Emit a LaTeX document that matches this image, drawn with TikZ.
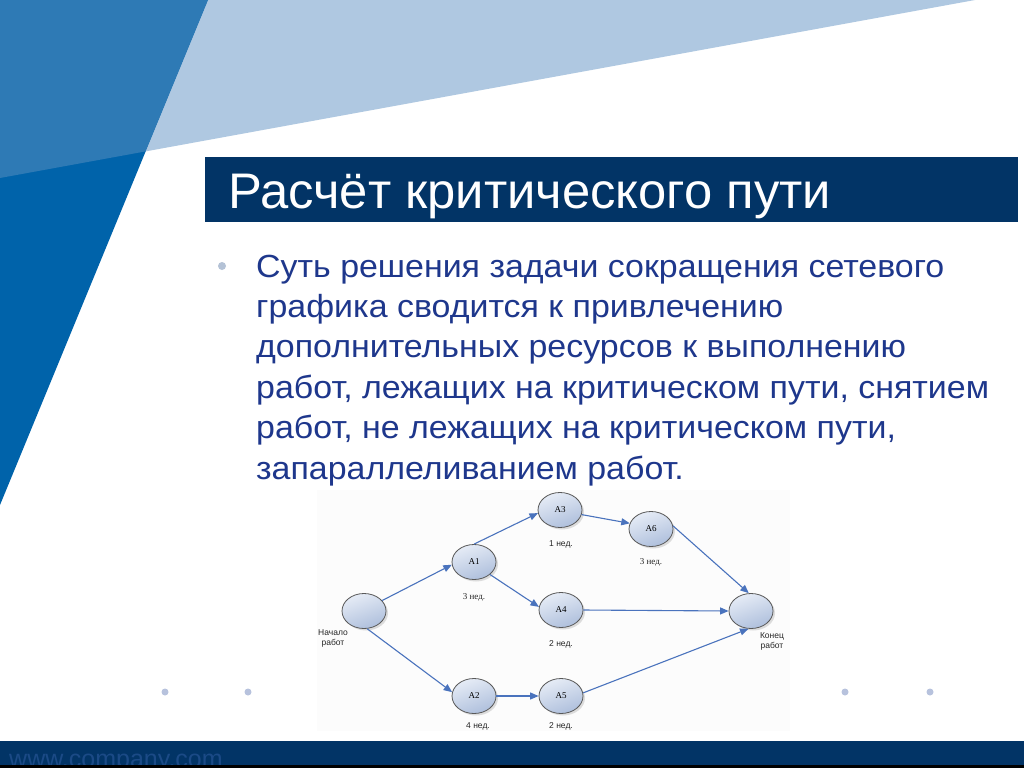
\documentclass[tikz,border=0pt]{standalone}
\usepackage{fontspec}
\setmainfont{Liberation Sans}
\newfontfamily\serifnode{Liberation Serif}
\newfontfamily\bodyfont[FakeStretch=1.06]{Liberation Sans}
\newfontfamily\titlefont[FakeStretch=1.015]{Liberation Sans}
\usetikzlibrary{shapes.geometric,arrows.meta,shadows}
\definecolor{darkblue}{HTML}{0063AA}
\definecolor{midblue}{HTML}{2E7AB5}
\definecolor{lightblue}{HTML}{AFC8E1}
\definecolor{navy}{HTML}{023466}
\definecolor{footnavy}{HTML}{1B4A86}
\definecolor{textnavy}{HTML}{1E378C}
\definecolor{arrowblue}{HTML}{4A73BD}
\definecolor{dotblue}{HTML}{B7C2DD}
\definecolor{bulletgray}{HTML}{B4C2D6}
\definecolor{nodetop}{HTML}{E6ECF6}
\definecolor{nodebot}{HTML}{AEBFDC}
\tikzset{
  bodyline/.style={anchor=base west, inner sep=0pt, text=textnavy, font=\bodyfont\fontsize{32}{36}\selectfont},
  evt/.style={ellipse, draw=black!65, line width=0.8pt, minimum width=44pt, minimum height=35pt, inner sep=0pt,
    top color=nodetop, bottom color=nodebot, shading angle=20,
    drop shadow={shadow xshift=2pt, shadow yshift=-2pt, opacity=0.25},
    font=\serifnode\fontsize{9}{10}\selectfont},
  dur/.style={inner sep=0pt, font=\fontsize{8.5}{10}\selectfont, text=black!85},
  durserif/.style={inner sep=0pt, font=\serifnode\fontsize{9}{10}\selectfont, text=black!85},
  conn/.style={draw=arrowblue, line width=1.1pt, -{Triangle[length=8.5pt,width=7pt]}},
  dot/.style={circle, fill=dotblue, inner sep=0pt, minimum size=7pt},
}
\begin{document}
\begin{tikzpicture}[x=1pt,y=-1pt]
\useasboundingbox (0,0) rectangle (1024,768);
\fill[white] (0,0) rectangle (1024,768);
% background wedges
\fill[darkblue] (0,0) -- (208,0) -- (0,505) -- cycle;
\fill[lightblue] (145.6,151.4) -- (208,0) -- (975,0) -- cycle;
\fill[midblue] (0,0) -- (208,0) -- (145.6,151.4) -- (0,178) -- cycle;
% title bar
\fill[navy] (205,157) rectangle (1018,222);
\node[anchor=base west, inner sep=0pt, text=white, font=\titlefont\fontsize{50}{56}\selectfont] (title) at (228,208) {Расчёт критического пути};
% bullet text
\node[circle, fill=bulletgray, inner sep=0pt, minimum size=8pt] (bullet) at (222,266) {};
\node[bodyline] (l1) at (256,277) {Суть решения задачи сокращения сетевого};
\node[bodyline] (l2) at (256,317.4) {графика сводится к привлечению};
\node[bodyline] (l3) at (256,357.8) {дополнительных ресурсов к выполнению};
\node[bodyline] (l4) at (256,398.2) {работ, лежащих на критическом пути, снятием};
\node[bodyline] (l5) at (256,438.6) {работ, не лежащих на критическом пути,};
\node[bodyline] (l6) at (256,479) {запараллеливанием работ.};
% decorative dots
\node[dot] (d1) at (165,692) {};
\node[dot] (d2) at (248,692) {};
\node[dot] (d3) at (845,692) {};
\node[dot] (d4) at (930,692) {};
% diagram picture
\fill[black!1] (317,490) rectangle (790,731);
\node[evt] (S) at (364,611) {};
\node[evt] (A1) at (474,562) {A1};
\node[evt] (A2) at (474,696) {A2};
\node[evt] (A3) at (560,510) {A3};
\node[evt] (A4) at (561,610) {A4};
\node[evt] (A5) at (561,696) {A5};
\node[evt] (A6) at (651,529) {A6};
\node[evt] (E) at (751,611) {};
\node[dur, align=center] (ls) at (333,638) {Начало\\работ};
\node[dur, align=center] (le) at (772,641) {Конец\\работ};
\node[durserif] (d1l) at (474,597) {3 нед.};
\node[dur] (d3l) at (561,544) {1 нед.};
\node[durserif] (d6l) at (651,562) {3 нед.};
\node[dur] (d4l) at (561,644) {2 нед.};
\node[dur] (d2l) at (478,726) {4 нед.};
\node[dur] (d5l) at (561,726) {2 нед.};
\path[conn] (S.30) -- (A1.187);
\path[conn] (S.-80) -- (A2.170);
\path[conn] (A1.north) -- (A3.188);
\path[conn] (A1.-38) -- (A4.172);
\path[conn] (A2.east) -- (A5.west);
\path[conn] (A3.-12) -- (A6.165);
\path[conn] (A6.8) -- (E.97);
\path[conn] (A4.east) -- (E.west);
\path[conn] (A5.8) -- (E.-98);
% footer
\fill[navy] (0,741) rectangle (1024,765);
\fill[black] (0,765) rectangle (1024,768);
\begin{scope}
\clip (0,741) rectangle (1024,764.5);
\node[anchor=base west, inner sep=0pt, text=footnavy, font=\fontsize{25}{28}\selectfont] (url) at (9,767) {www.company.com};
\end{scope}
\end{tikzpicture}
\end{document}
